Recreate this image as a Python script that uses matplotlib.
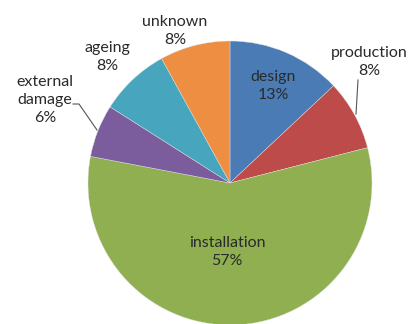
import matplotlib.pyplot as plt

causes = ["design", "production", "installation", "external\ndamage", "ageing", "unknown"]
shares = [13, 8, 57, 6, 8, 8]
colors = ["#4A7BB5", "#BC4B4A", "#8FAF50", "#7B5D9E", "#47A5BE", "#EE8E42"]

# label positions in pixels (x, y from top)
label_pos = [(273, 86), (369, 62), (227, 252), (45, 100), (107, 57), (175, 31)]

W, H = 412, 324
fig = plt.figure(figsize=(W / 100, H / 100), dpi=100)
ax = fig.add_axes([0, 0, 1, 1])
ax.pie(shares, colors=colors, startangle=90, counterclock=False,
       center=(230, H - 183), radius=142, frame=True,
       wedgeprops=dict(linewidth=0.3, edgecolor="#e0e0e0"))
ax.set_xlim(0, W)
ax.set_ylim(0, H)
ax.set_aspect("equal")
ax.axis("off")

for name, val, (x, y) in zip(causes, shares, label_pos):
    ax.text(x, H - y, f"{name}\n{val}%", ha="center", va="center",
            fontsize=11.5, family="Lato", color="#2a2a2a", linespacing=1.4)

# leader lines
ax.plot([358, 356], [H - 80, H - 114], color="#555555", lw=0.8)
ax.plot([73, 79, 97], [H - 104, H - 104, H - 130], color="#555555", lw=0.8)

fig.savefig("out.png", dpi=100)
